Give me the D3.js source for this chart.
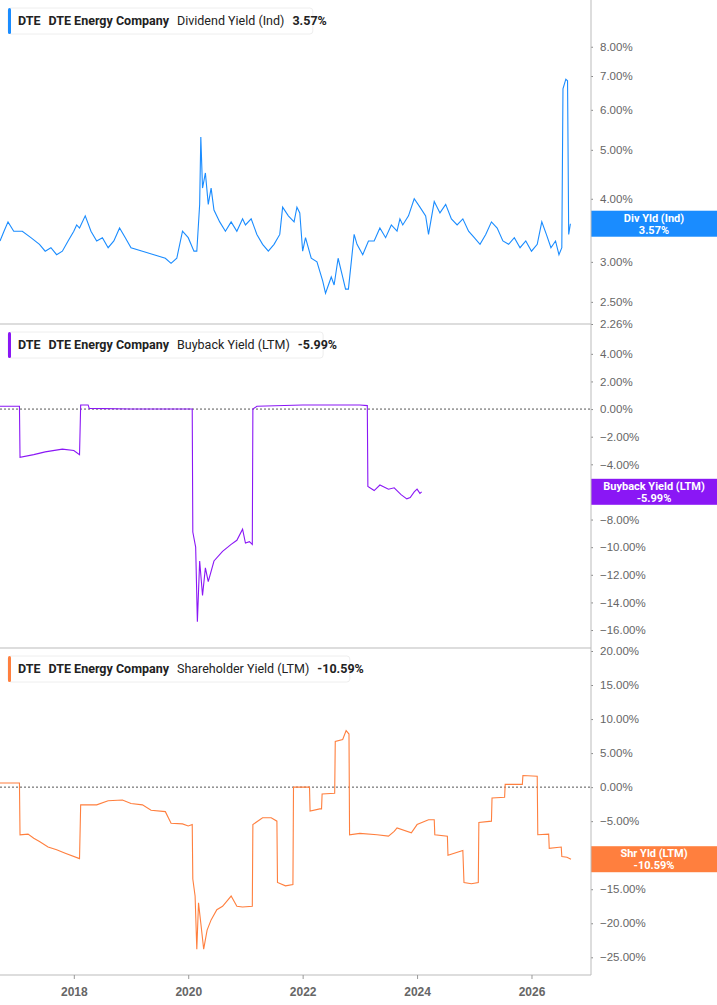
<!DOCTYPE html>
<html><head><meta charset="utf-8">
<script src="https://cdn.jsdelivr.net/npm/d3@7"></script>
<style>body{margin:0;background:#fff;font-family:Roboto,"Noto Sans",sans-serif}</style>
</head><body><svg id="chart" width="717" height="1005"></svg>
<script>
// [decimal year, %]
const divYield = [[2016.71,3.30],[2016.78,3.45],[2016.85,3.6],[2016.95,3.45],[2017.1,3.45],[2017.25,3.35],[2017.4,3.25],[2017.5,3.15],[2017.6,3.2],[2017.7,3.1],[2017.8,3.15],[2017.9,3.3],[2018.0,3.45],[2018.05,3.55],[2018.1,3.5],[2018.2,3.7],[2018.3,3.45],[2018.4,3.3],[2018.5,3.35],[2018.6,3.2],[2018.7,3.3],[2018.8,3.5],[2018.9,3.35],[2019.0,3.2],[2019.2,3.15],[2019.4,3.1],[2019.6,3.05],[2019.7,2.98],[2019.8,3.05],[2019.9,3.45],[2020.0,3.35],[2020.1,3.15],[2020.15,3.15],[2020.2,3.9],[2020.22,5.3],[2020.25,4.2],[2020.3,4.5],[2020.35,3.9],[2020.4,4.2],[2020.45,3.8],[2020.55,3.6],[2020.65,3.45],[2020.75,3.6],[2020.85,3.45],[2020.95,3.65],[2021.0,3.55],[2021.1,3.65],[2021.2,3.4],[2021.3,3.25],[2021.4,3.15],[2021.5,3.25],[2021.6,3.4],[2021.65,3.85],[2021.75,3.7],[2021.85,3.6],[2021.9,3.85],[2021.95,3.75],[2022.0,3.15],[2022.05,3.35],[2022.15,3.05],[2022.25,3.0],[2022.35,2.75],[2022.4,2.6],[2022.5,2.8],[2022.55,2.7],[2022.62,3.05],[2022.7,2.8],[2022.75,2.65],[2022.8,2.65],[2022.85,3.0],[2022.9,3.4],[2022.95,3.25],[2023.05,3.1],[2023.15,3.3],[2023.25,3.3],[2023.35,3.5],[2023.45,3.35],[2023.55,3.55],[2023.65,3.45],[2023.7,3.65],[2023.75,3.55],[2023.85,3.7],[2023.95,4.0],[2024.05,3.85],[2024.15,3.7],[2024.2,3.4],[2024.3,3.95],[2024.4,3.75],[2024.5,3.9],[2024.6,3.65],[2024.7,3.55],[2024.8,3.65],[2024.9,3.45],[2025.0,3.35],[2025.1,3.25],[2025.2,3.4],[2025.3,3.6],[2025.4,3.5],[2025.5,3.3],[2025.6,3.25],[2025.7,3.35],[2025.8,3.2],[2025.9,3.3],[2026.0,3.15],[2026.1,3.25],[2026.18,3.6],[2026.26,3.4],[2026.34,3.2],[2026.42,3.3],[2026.48,3.1],[2026.53,3.2],[2026.55,6.6],[2026.6,6.9],[2026.63,6.85],[2026.65,3.4],[2026.68,3.57]];
const buyback = [[2016.71,0.2],[2017.05,0.2],[2017.06,-3.5],[2017.3,-3.3],[2017.5,-3.1],[2017.8,-2.9],[2018.0,-3.0],[2018.1,-3.3],[2018.12,0.3],[2018.25,0.3],[2018.27,0.05],[2019.0,0.0],[2020.07,0.0],[2020.08,-8.9],[2020.13,-10],[2020.16,-15.4],[2020.2,-11],[2020.25,-13.5],[2020.3,-11.5],[2020.35,-12.5],[2020.45,-11],[2020.6,-10.3],[2020.75,-9.8],[2020.85,-9.5],[2020.95,-8.7],[2021.0,-9.7],[2021.07,-9.6],[2021.12,-9.8],[2021.13,0.0],[2021.2,0.2],[2022.0,0.3],[2023.0,0.3],[2023.13,0.25],[2023.14,-5.6],[2023.25,-5.9],[2023.35,-5.5],[2023.5,-5.8],[2023.6,-5.7],[2023.72,-6.2],[2023.82,-6.5],[2023.88,-6.4],[2023.95,-6.0],[2024.0,-5.8],[2024.05,-6.1],[2024.08,-5.99]];
const shrYield = [[2016.71,0.6],[2017.05,0.6],[2017.06,-7.0],[2017.2,-6.9],[2017.3,-7.5],[2017.4,-8.0],[2017.55,-8.8],[2017.7,-9.2],[2017.85,-9.7],[2018.1,-10.5],[2018.12,-2.6],[2018.4,-2.6],[2018.6,-2.0],[2018.85,-1.9],[2019.0,-2.4],[2019.2,-2.6],[2019.35,-3.4],[2019.6,-3.6],[2019.7,-5.3],[2019.9,-5.4],[2020.0,-5.7],[2020.07,-5.5],[2020.08,-13.5],[2020.12,-16],[2020.15,-23.8],[2020.18,-17],[2020.22,-20],[2020.27,-23.8],[2020.33,-21],[2020.4,-19.5],[2020.5,-18],[2020.6,-17.5],[2020.75,-16],[2020.85,-17.5],[2020.95,-17.6],[2021.12,-17.5],[2021.13,-5.5],[2021.3,-4.5],[2021.45,-4.5],[2021.55,-5.0],[2021.56,-14],[2021.7,-14.5],[2021.83,-14.3],[2021.84,0],[2022.12,0],[2022.13,-3.5],[2022.3,-3.2],[2022.33,-3.2],[2022.34,-1.0],[2022.56,-0.9],[2022.57,6.7],[2022.7,7.0],[2022.76,8.3],[2022.81,7.8],[2022.82,-7.0],[2023.0,-6.8],[2023.3,-7.0],[2023.5,-7.2],[2023.6,-6.5],[2023.65,-6.0],[2023.9,-6.7],[2024.0,-5.5],[2024.2,-4.8],[2024.3,-4.8],[2024.31,-7.0],[2024.53,-7.2],[2024.54,-10],[2024.8,-9.3],[2024.82,-14],[2024.95,-14.2],[2025.07,-14],[2025.08,-5.2],[2025.3,-5.0],[2025.31,-1.6],[2025.53,-1.5],[2025.54,0.4],[2025.84,0.4],[2025.85,1.7],[2026.1,1.6],[2026.11,-7.0],[2026.3,-6.9],[2026.31,-9.0],[2026.52,-8.8],[2026.53,-10.2],[2026.62,-10.3],[2026.69,-10.59]];

const divTicks = [2.26, 2.5, 3, 4, 5, 6, 7, 8];
const bbTicks = [4, 2, 0, -2, -4, -6, -8, -10, -12, -14, -16];
const shTicks = [20, 15, 10, 5, 0, -5, -10, -15, -20, -25];
const yearTicks = [2018, 2020, 2022, 2024, 2026];

const svg = d3.select('#chart');
const plotW = 591;
const x = d3.scaleLinear().domain([2016.71, 2027.04]).range([0, plotW]);

const panels = [
  { data: divYield, color: '#1a8cff', top: 0, bottom: 324, y: d3.scaleLog().domain([2.26, 9.9]).range([324, 0]),
    ticks: divTicks, zero: false, name: 'Dividend Yield (Ind)', val: '3.57%', badge: 'Div Yld (Ind)', last: 3.57 },
  { data: buyback, color: '#8a17f5', top: 324, bottom: 648, y: d3.scaleLinear().domain([-17.3, 6.16]).range([648, 324]),
    ticks: bbTicks, zero: true, name: 'Buyback Yield (LTM)', val: '-5.99%', badge: 'Buyback Yield (LTM)', last: -5.99 },
  { data: shrYield, color: '#ff7f3e', top: 648, bottom: 975, y: d3.scaleLinear().domain([-27.6, 20.44]).range([975, 648]),
    ticks: shTicks, zero: true, name: 'Shareholder Yield (LTM)', val: '-10.59%', badge: 'Shr Yld (LTM)', last: -10.59 }
];

panels.forEach(p => {
  const g = svg.append('g');
  if (p.zero) {
    g.append('line').attr('x1', 0).attr('x2', plotW).attr('y1', p.y(0)).attr('y2', p.y(0))
      .attr('stroke', '#555').attr('stroke-dasharray', '2,2');
  }
  // tick labels hidden behind the value badge are left out
  const by = p.y(p.last);
  const shown = p.ticks.filter(t => Math.abs(p.y(t) - by) > 13);
  const ax = g.append('g').attr('transform', `translate(${plotW},0)`)
    .call(d3.axisRight(p.y).tickValues(shown).tickSize(2).tickPadding(7)
      .tickFormat(d => d3.format('.2f')(d) + '%'));
  ax.select('.domain').remove();
  ax.selectAll('text').attr('fill', '#666').attr('font-size', 11.5);
  ax.selectAll('line').attr('stroke', '#888');
  g.append('line').attr('x1', 0).attr('x2', plotW).attr('y1', p.bottom).attr('y2', p.bottom)
    .attr('stroke', '#bbb');

  g.append('path').datum(p.data)
    .attr('fill', 'none').attr('stroke', p.color).attr('stroke-width', 1.1)
    .attr('d', d3.line().x(d => x(d[0])).y(d => p.y(d[1])));

  // badge
  g.append('rect').attr('x', plotW).attr('y', by - 13).attr('width', 717 - plotW).attr('height', 26).attr('fill', p.color);
  g.append('text').attr('x', 654).attr('y', by - 2).attr('text-anchor', 'middle').attr('fill', '#fff')
    .attr('font-size', 11).attr('font-weight', 'bold').text(p.badge);
  g.append('text').attr('x', 654).attr('y', by + 10).attr('text-anchor', 'middle').attr('fill', '#fff')
    .attr('font-size', 11).attr('font-weight', 'bold').text(p.val);

  // legend
  const lg = g.append('g').attr('transform', `translate(8,${p.top + 8})`);
  const t = lg.append('text').attr('x', 10).attr('y', 17).attr('font-size', 12.5).attr('fill', '#222');
  t.append('tspan').attr('font-weight', 'bold').text('DTE');
  t.append('tspan').attr('dx', 8).attr('font-weight', 'bold').text('DTE Energy Company');
  t.append('tspan').attr('dx', 8).text(p.name);
  t.append('tspan').attr('dx', 8).attr('font-weight', 'bold').text(p.val);
  const w = t.node().getComputedTextLength() + 20;
  lg.insert('rect', 'text').attr('width', w).attr('height', 26).attr('rx', 3)
    .attr('fill', '#fff').attr('stroke', '#eee');
  lg.insert('rect', 'text').attr('width', 3).attr('height', 26).attr('rx', 1.5).attr('fill', p.color);
});

// vertical axis line
svg.append('line').attr('x1', plotW).attr('x2', plotW).attr('y1', 0).attr('y2', 975).attr('stroke', '#bbb');

const xa = svg.append('g').attr('transform', 'translate(0,975)')
  .call(d3.axisBottom(x).tickValues(yearTicks).tickFormat(d3.format('d')).tickSize(4).tickPadding(8));
xa.select('.domain').remove();
xa.selectAll('line').attr('stroke', '#999');
xa.selectAll('text').attr('fill', '#666').attr('font-size', 12).attr('font-weight', 'bold');
</script></body></html>
